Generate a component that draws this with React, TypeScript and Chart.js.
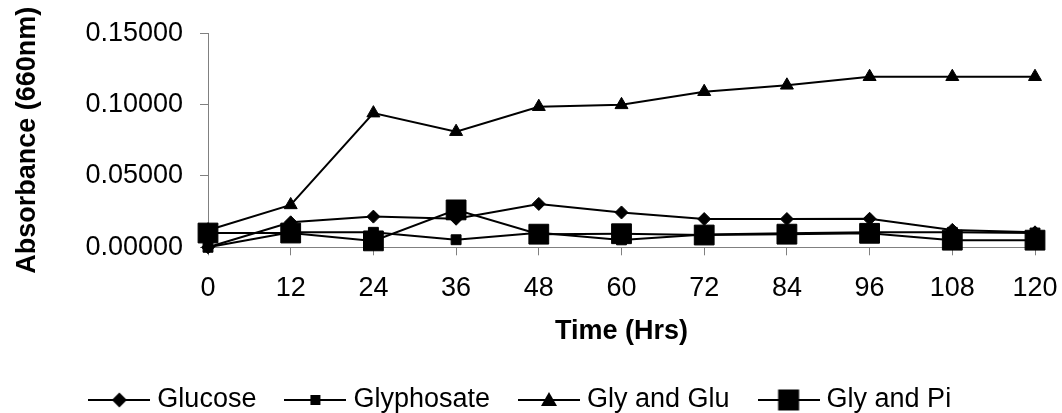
import React, { useEffect, useRef } from 'react';
import { Chart, registerables } from 'chart.js';

Chart.register(...registerables);

// ---- data ----
const timeHours = [0, 12, 24, 36, 48, 60, 72, 84, 96, 108, 120];
const seriesNames = ['Glucose', 'Glyphosate', 'Gly and Glu', 'Gly and Pi'];
const glucose = [0.0, 0.0175, 0.0215, 0.02, 0.0304, 0.0244, 0.0198, 0.0198, 0.02, 0.0122, 0.0105];
const glyphosate = [0.0, 0.0105, 0.0105, 0.0053, 0.0102, 0.0052, 0.009, 0.0098, 0.0105, 0.0105, 0.01];
const glyAndGlu = [0.012, 0.0297, 0.094, 0.081, 0.0985, 0.0998, 0.109, 0.1135, 0.1195, 0.1195, 0.1195];
const glyAndPi = [0.01, 0.01, 0.0045, 0.0262, 0.0092, 0.0095, 0.0086, 0.0092, 0.0098, 0.005, 0.005];
const yMin = 0;
const yMax = 0.15;
const yStep = 0.05;
const xStep = 12;

const FONT = '"Liberation Sans", Arial, Helvetica, sans-serif';

function makeLegendIcon(kind: string): HTMLCanvasElement {
  const c = document.createElement('canvas');
  c.width = 62;
  c.height = 24;
  const g = c.getContext('2d')!;
  g.strokeStyle = '#000';
  g.fillStyle = '#000';
  g.lineWidth = 2;
  g.beginPath();
  g.moveTo(0, 12);
  g.lineTo(62, 12);
  g.stroke();
  g.beginPath();
  if (kind === 'diamond') {
    g.moveTo(31, 4.5);
    g.lineTo(38.5, 12);
    g.lineTo(31, 19.5);
    g.lineTo(23.5, 12);
    g.closePath();
  } else if (kind === 'smallSquare') {
    g.rect(26, 7, 10, 10);
  } else if (kind === 'triangle') {
    g.moveTo(31, 4);
    g.lineTo(39, 18);
    g.lineTo(23, 18);
    g.closePath();
  } else {
    g.rect(20.5, 1.5, 21, 21);
  }
  g.fill();
  return c;
}

const legendNudge = {
  id: 'legendNudge',
  afterLayout(chart: any) {
    const l = chart.legend;
    if (!l) return;
    l.left += 5.5;
    l.right += 5.5;
    l.top += 10.5;
    l.bottom += 10.5;
  },
};

export default function App() {
  const ref = useRef<HTMLCanvasElement | null>(null);

  useEffect(() => {
    if (!ref.current) return;
    Chart.defaults.font.family = FONT;
    const icons = [
      makeLegendIcon('diamond'),
      makeLegendIcon('smallSquare'),
      makeLegendIcon('triangle'),
      makeLegendIcon('bigSquare'),
    ];
    const toPoints = (arr: number[]) => arr.map((v, i) => ({ x: timeHours[i], y: v }));
    const common = {
      borderColor: '#000',
      backgroundColor: '#000',
      borderWidth: 2,
      pointBackgroundColor: '#000',
      pointBorderColor: '#000',
      pointBorderWidth: 1,
      tension: 0,
      fill: false,
      clip: false as any,
    };
    const tickFont = { family: FONT, size: 27 };
    const titleFont = { family: FONT, size: 27, weight: 'bold' as const };

    const chart = new Chart(ref.current, {
      type: 'line',
      data: {
        datasets: [
          { ...common, label: seriesNames[0], data: toPoints(glucose), pointStyle: 'rectRot', pointRadius: 6.5, order: 4 },
          { ...common, label: seriesNames[1], data: toPoints(glyphosate), pointStyle: 'rect', pointRadius: 7, order: 3 },
          { ...common, label: seriesNames[2], data: toPoints(glyAndGlu), pointStyle: 'triangle', pointRadius: 7.5, order: 2 },
          { ...common, label: seriesNames[3], data: toPoints(glyAndPi), pointStyle: 'rect', pointRadius: 14, order: 1 },
        ],
      },
      options: {
        animation: false,
        responsive: true,
        maintainAspectRatio: false,
        layout: { padding: { top: 33, right: 27, bottom: 0, left: 0 } },
        plugins: {
          legend: {
            position: 'bottom',
            labels: {
              usePointStyle: true,
              pointStyleWidth: 49,
              padding: 34.5,
              color: '#000',
              font: { family: FONT, size: 27 },
              generateLabels: () =>
                seriesNames.map((name, i) => ({
                  text: name,
                  pointStyle: icons[i] as any,
                  fillStyle: '#000',
                  strokeStyle: '#000',
                  lineWidth: 0,
                  hidden: false,
                  datasetIndex: i,
                })),
            },
          },
          tooltip: { enabled: false },
        },
        scales: {
          x: {
            type: 'linear',
            min: 0,
            max: 120,
            ticks: { stepSize: xStep, color: '#000', font: tickFont, padding: 17, maxRotation: 0, autoSkip: false },
            grid: { drawOnChartArea: false, drawTicks: true, tickLength: 8, color: '#808080', lineWidth: 1 },
            border: { display: true, color: '#808080', width: 1 },
            title: { display: true, text: 'Time (Hrs)', color: '#000', font: titleFont, padding: { top: 0, bottom: -6 } },
            afterFit: (s: any) => {
              s.height = 94.2;
              s.paddingLeft = 0;
              s.paddingRight = 0;
            },
          },
          y: {
            min: yMin,
            max: yMax,
            ticks: {
              stepSize: yStep,
              color: '#000',
              font: tickFont,
              padding: 17,
              callback: (v: any) => Number(v).toFixed(5),
            },
            grid: { drawOnChartArea: false, drawTicks: true, tickLength: 8, color: '#808080', lineWidth: 1 },
            border: { display: true, color: '#808080', width: 1 },
            title: { display: true, text: 'Absorbance (660nm)', color: '#000', font: titleFont, padding: { top: 11, bottom: 0 } },
            afterFit: (s: any) => {
              s.width = 208;
            },
          },
        },
      } as any,
      plugins: [legendNudge],
    });
    return () => chart.destroy();
  }, []);

  return (
    <div style={{ position: 'fixed', left: 0, top: 0, width: 1062, height: 413, background: '#fff' }}>
      <canvas ref={ref} />
    </div>
  );
}
